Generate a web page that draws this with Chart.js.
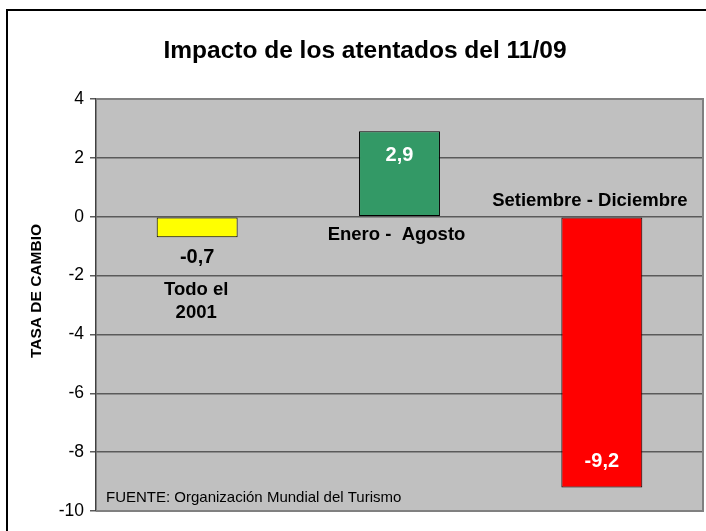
<!DOCTYPE html>
<html>
<head>
<meta charset="utf-8">
<script src="https://cdn.jsdelivr.net/npm/chart.js@4/dist/chart.umd.min.js"></script>
<style>
  body { margin: 0; background: #fff; }
  #wrap { width: 706px; height: 531px; }
</style>
</head>
<body>
<div id="wrap"><canvas id="impactChart" width="706" height="531"></canvas></div>
<script>
// data
const categories = ['Todo el 2001', 'Enero - Agosto', 'Setiembre - Diciembre'];
const categoryLines = [['Todo el', '2001'], ['Enero -  Agosto'], ['Setiembre - Diciembre']];
const values = [-0.7, 2.9, -9.2];
const barColors = ['#FFFF00', '#339966', '#FF0000'];
const yMin = -10;
const yMax = 4;
const yStep = 2;
const chartTitle = 'Impacto de los atentados del 11/09';
const yTitle = 'TASA DE CAMBIO';
const sourceNote = 'FUENTE: Organización Mundial del Turismo';

const FONT = '"Liberation Sans", Arial, sans-serif';
const fmt = v => v.toFixed(1).replace('.', ',');

// frame, plot background, titles and labels
const decorPlugin = {
    id: 'decor',
    beforeDraw(chart) {
        const { ctx, chartArea: a } = chart;
        ctx.save();
        ctx.fillStyle = '#C0C0C0';
        ctx.fillRect(a.left, a.top, a.right - a.left, a.bottom - a.top);
        // outer frame (left + top only, the rest is cropped)
        ctx.strokeStyle = '#000';
        ctx.lineWidth = 2;
        ctx.beginPath();
        ctx.moveTo(7, 531);
        ctx.lineTo(7, 10);
        ctx.lineTo(706, 10);
        ctx.stroke();
        ctx.restore();
    },
    afterDraw(chart) {
        const { ctx, chartArea: a } = chart;
        const y = chart.scales.y;
        const bars = chart.getDatasetMeta(0).data;
        ctx.save();

        // plot border right / bottom
        ctx.strokeStyle = '#808080';
        ctx.lineWidth = 2;
        ctx.beginPath();
        ctx.moveTo(a.left, a.top);
        ctx.lineTo(a.right, a.top);
        ctx.lineTo(a.right, a.bottom);
        ctx.lineTo(a.left, a.bottom);
        ctx.stroke();

        ctx.fillStyle = '#000';
        ctx.textAlign = 'center';
        ctx.textBaseline = 'middle';
        ctx.font = 'bold 24.5px ' + FONT;
        ctx.fillText(chartTitle, 365, 51);

        // y axis title
        ctx.save();
        ctx.translate(37, 291);
        ctx.rotate(-Math.PI / 2);
        ctx.font = 'bold 15.5px ' + FONT;
        ctx.fillText(yTitle, 0, 0);
        ctx.restore();

        // source note
        ctx.textAlign = 'left';
        ctx.font = '15px ' + FONT;
        ctx.fillText(sourceNote, 106, 498);

        const zero = y.getPixelForValue(0);
        ctx.textAlign = 'center';

        // value labels
        ctx.font = 'bold 20px ' + FONT;
        bars.forEach((bar, i) => {
            const v = values[i];
            const tip = y.getPixelForValue(v);
            let ly, col;
            if (i === 0) { ly = tip + 20; col = '#000'; }
            else if (v > 0) { ly = tip + 24; col = '#fff'; }
            else { ly = tip - 26; col = '#fff'; }
            ctx.fillStyle = col;
            ctx.fillText(fmt(v), bar.x, ly);
        });

        // category labels
        ctx.fillStyle = '#000';
        ctx.font = 'bold 18.5px ' + FONT;
        const catPos = [
            { dx: -1, dy: 73 },
            { dx: -3, dy: 18 },
            { dx: -12, dy: -16 }
        ];
        bars.forEach((bar, i) => {
            categoryLines[i].forEach((line, k) => {
                ctx.fillText(line, bar.x + catPos[i].dx, zero + catPos[i].dy + k * 23);
            });
        });

        ctx.restore();
    }
};

new Chart(document.getElementById('impactChart'), {
    type: 'bar',
    data: {
        labels: categories,
        datasets: [{
            data: values,
            backgroundColor: barColors,
            borderColor: '#000',
            borderWidth: 1,
            borderSkipped: false,
            categoryPercentage: 1,
            barPercentage: 0.4
        }]
    },
    options: {
        responsive: false,
        animation: false,
        layout: { padding: { left: 0, top: 99, right: 3, bottom: 20 } },
        plugins: {
            legend: { display: false },
            tooltip: { enabled: false },
            title: { display: false }
        },
        scales: {
            x: { display: false },
            y: {
                min: yMin,
                max: yMax,
                afterFit: s => { s.width = 96; },
                ticks: {
                    stepSize: yStep,
                    color: '#000',
                    padding: 6,
                    font: { family: FONT, size: 17.5 }
                },
                grid: {
                    color: '#5a5a5a',
                    lineWidth: 1.5,
                    tickLength: 6,
                    tickColor: '#5a5a5a'
                },
                border: { color: '#404040', width: 1.5 }
            }
        }
    },
    plugins: [decorPlugin]
});
</script>
</body>
</html>
